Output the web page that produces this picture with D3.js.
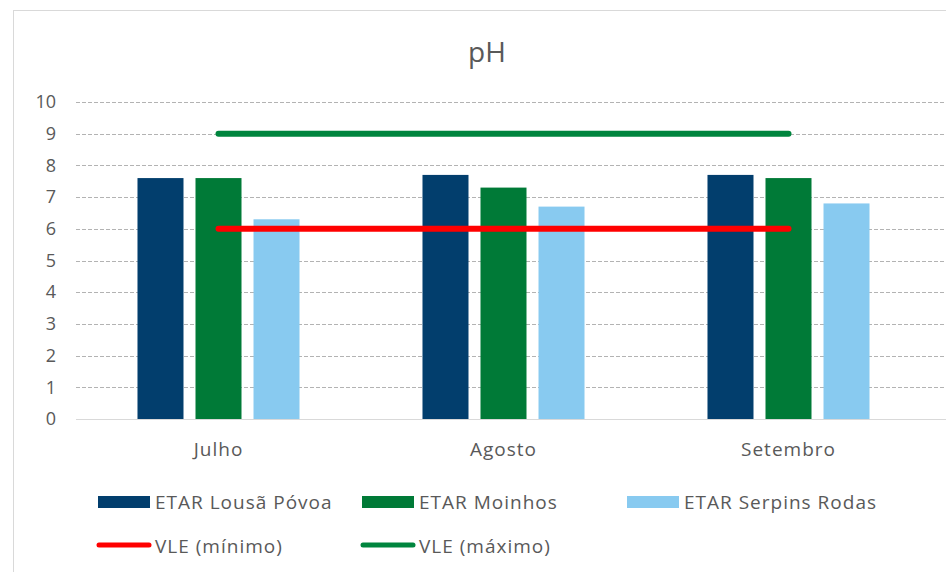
<!DOCTYPE html>
<head>
<meta charset="utf-8">
<style>
body { margin: 0; background: #fff; }
text { font-family: "Open Sans", Lato, sans-serif; fill: #595959; }
.grid line { stroke: #b3b3b3; stroke-width: 1px; stroke-dasharray: 4,2; }
</style>
</head>
<body>
<div id="mainDiv" style="width: 946px; height: 572px; background-color: white;"></div>
<script src="https://d3js.org/d3.v7.min.js"></script>
<script>

var width = 946;
var height = 572;

// data
var months = ["Julho", "Agosto", "Setembro"];
var seriesNames = ["ETAR Lousã Póvoa", "ETAR Moinhos", "ETAR Serpins Rodas"];
var lousaPovoa = [7.6, 7.7, 7.7];
var moinhos = [7.6, 7.3, 7.6];
var serpinsRodas = [6.3, 6.7, 6.8];
var vleMin = [6, 6, 6];
var vleMax = [9, 9, 9];
var yTicks = [0, 1, 2, 3, 4, 5, 6, 7, 8, 9, 10];

var barColors = ["#023e6d", "#007a37", "#88caf0"];
var lineColors = ["#ff0000", "#00853e"];

var svg = d3.select("#mainDiv").append("svg")
    .attr("width", width)
    .attr("height", height);

// chart frame
svg.append("rect")
    .attr("x", 13.5).attr("y", 10.5)
    .attr("width", 940).attr("height", 570)
    .attr("fill", "none")
    .attr("stroke", "#d9d9d9");

var plotLeft = 76, plotRight = 931, plotTop = 102, plotBottom = 419;

var x = d3.scaleBand().domain(months).range([plotLeft, plotRight]);
var xs = d3.scaleBand().domain(seriesNames).range([0, x.bandwidth()]).paddingInner(0.207).paddingOuter(1.06);
var y = d3.scaleLinear().domain([0, 10]).range([plotBottom, plotTop]);

// title
svg.append("text")
    .attr("x", 487).attr("y", 62)
    .attr("text-anchor", "middle")
    .style("font-size", "28px")
    .text("pH");

// gridlines
svg.append("g").attr("class", "grid")
  .selectAll("line")
  .data(yTicks.filter(function(d) { return d > 0; }))
  .enter().append("line")
    .attr("x1", plotLeft).attr("x2", plotRight + 15)
    .attr("y1", function(d) { return Math.round(y(d)) + 0.5; })
    .attr("y2", function(d) { return Math.round(y(d)) + 0.5; });

// y axis labels
var yAxis = svg.append("g")
    .attr("transform", "translate(" + (plotLeft - 20) + ",0)")
    .call(d3.axisLeft(y).tickValues(yTicks).tickSize(0).tickPadding(0));
yAxis.select(".domain").remove();
yAxis.selectAll("text").style("font-size", "18px").attr("fill", "#595959");

// bars
var allSeries = [lousaPovoa, moinhos, serpinsRodas];
allSeries.forEach(function(vals, si) {
  svg.append("g").selectAll("rect")
    .data(vals)
    .enter().append("rect")
      .attr("x", function(d, i) { return x(months[i]) + xs(seriesNames[si]); })
      .attr("y", function(d) { return y(d); })
      .attr("width", xs.bandwidth())
      .attr("height", function(d) { return y(0) - y(d); })
      .attr("fill", barColors[si]);
});

// x axis line
svg.append("line")
    .attr("x1", plotLeft).attr("x2", plotRight + 15)
    .attr("y1", Math.round(y(0)) + 0.5).attr("y2", Math.round(y(0)) + 0.5)
    .attr("stroke", "#d9d9d9");

var xAxis = svg.append("g")
    .attr("transform", "translate(0," + y(0) + ")")
    .call(d3.axisBottom(x).tickSize(0).tickPadding(24));
xAxis.select(".domain").remove();
xAxis.selectAll("text").style("font-size", "19px").style("letter-spacing", "1px").attr("fill", "#595959");

// VLE lines
var line = d3.line()
    .x(function(d, i) { return x(months[i]) + x.bandwidth() / 2; })
    .y(function(d) { return y(d); });

[vleMin, vleMax].forEach(function(vals, li) {
  svg.append("path")
    .datum(vals)
    .attr("d", line)
    .attr("fill", "none")
    .attr("stroke", lineColors[li])
    .attr("stroke-width", 6)
    .attr("stroke-linecap", "round");
});

// legend
var legendBars = [
  { name: seriesNames[0], x: 98, color: barColors[0] },
  { name: seriesNames[1], x: 362, color: barColors[1] },
  { name: seriesNames[2], x: 627, color: barColors[2] }
];
legendBars.forEach(function(d) {
  svg.append("rect").attr("x", d.x).attr("y", 496).attr("width", 52).attr("height", 12).attr("fill", d.color);
  svg.append("text").attr("x", d.x + 57).attr("y", 509).style("font-size", "19px").style("letter-spacing", "1px").text(d.name);
});

var legendLines = [
  { name: "VLE (mínimo)", x: 98, color: lineColors[0] },
  { name: "VLE (máximo)", x: 362, color: lineColors[1] }
];
legendLines.forEach(function(d) {
  svg.append("line").attr("x1", d.x + 1).attr("x2", d.x + 51).attr("y1", 545).attr("y2", 545)
    .attr("stroke", d.color).attr("stroke-width", 5).attr("stroke-linecap", "round");
  svg.append("text").attr("x", d.x + 57).attr("y", 553).style("font-size", "19px").style("letter-spacing", "1px").text(d.name);
});

</script>
</body>
</html>
